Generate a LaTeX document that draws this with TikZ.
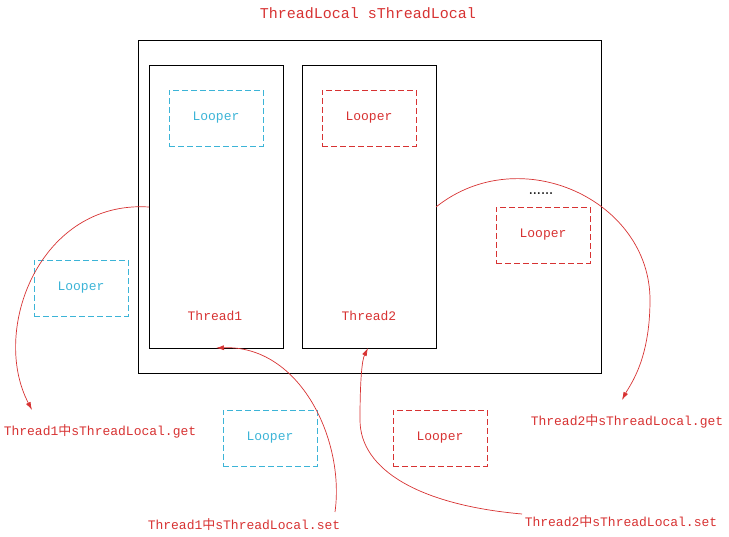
\documentclass[tikz,border=0pt]{standalone}
\usepackage{fontspec}
\usetikzlibrary{arrows.meta}
\setmonofont{Liberation Mono}
\newfontfamily\cjk{Noto Sans CJK SC}
\definecolor{rd}{RGB}{215,50,50}
\definecolor{cy}{RGB}{60,180,215}
\begin{document}
\begin{tikzpicture}[x=1pt,y=-1pt,
  box/.style={draw=black,line width=0.8pt},
  lp/.style={draw,dash pattern=on 6pt off 3pt,line width=0.9pt,minimum width=94pt,minimum height=56pt,font=\ttfamily\fontsize{13}{15}\selectfont},
  lbl/.style={text=rd,font=\ttfamily\fontsize{13}{15}\selectfont},
  arr/.style={draw=rd,line width=0.7pt,-{Latex[length=8pt,width=5pt]}}]
\useasboundingbox (0,0) rectangle (729,537);
\node[lbl,font=\ttfamily\fontsize{15}{17}\selectfont] (title) at (368,13) {ThreadLocal sThreadLocal};
\draw[box] (138,40) rectangle (601,373);
\node[box,minimum width=134pt,minimum height=283pt,inner sep=0] (t1) at (216,206.5) {};
\node[box,minimum width=134pt,minimum height=283pt,inner sep=0] (t2) at (369,206.5) {};
\node[lbl] at (215,316) {Thread1};
\node[lbl] at (369,316) {Thread2};
\node[lp,draw=cy,text=cy] (l1) at (216,118) {Looper};
\node[lp,draw=rd,text=rd] (l2) at (369,118) {Looper};
\node[font=\fontsize{13}{15}\selectfont] (dots) at (541,194) {\textbf{......}};
\node[lp,draw=rd,text=rd] (l3) at (543,235) {Looper};
\node[lp,draw=cy,text=cy] (l4) at (81,288) {Looper};
\node[lp,draw=cy,text=cy] (l5) at (270,438) {Looper};
\node[lp,draw=rd,text=rd] (l6) at (440,438) {Looper};
\node[lbl] (g1) at (100,431) {Thread1{\cjk 中}sThreadLocal.get};
\node[lbl] (g2) at (627,421) {Thread2{\cjk 中}sThreadLocal.get};
\node[lbl] (s1) at (244,525) {Thread1{\cjk 中}sThreadLocal.set};
\node[lbl] (s2) at (621,522) {Thread2{\cjk 中}sThreadLocal.set};
\coordinate (a1) at (149,207);
\coordinate (a2) at (436,207);
\coordinate (b1) at (216,348);
\coordinate (b2) at (368,348);
\coordinate (c1) at (335,512);
\coordinate (c2) at (522,514);
\draw[arr] (a1) .. controls (40,200) and (-10,330) .. (32,410);
\draw[arr] (a2) .. controls (520,140) and (650,200) .. (650,300) .. controls (650,360) and (630,385) .. (622,400);
\draw[arr] (c1) .. controls (345,440) and (300,345) .. (b1);
\draw[arr] (c2) .. controls (420,505) and (360,470) .. (360,420) .. controls (360,380) and (362,360) .. (b2);
\end{tikzpicture}
\end{document}
